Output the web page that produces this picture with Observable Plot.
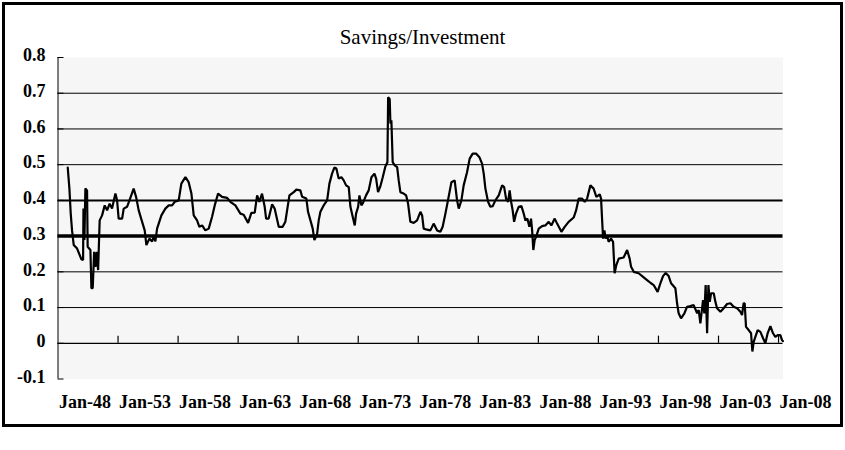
<!DOCTYPE html>
<html>
<head>
<meta charset="utf-8">
<script src="https://cdn.jsdelivr.net/npm/d3@7"></script>
<script src="https://cdn.jsdelivr.net/npm/@observablehq/plot@0.6"></script>
<style>
  html, body { margin: 0; padding: 0; background: #fff; }
  #wrap { position: relative; width: 845px; height: 450px; overflow: hidden; }
  #title { box-sizing: border-box; height: 50px; padding-top: 27px; text-align: center;
           font-family: "Liberation Serif", "Times New Roman", serif; font-size: 21px; line-height: 21px; color: #000; }
  #frame { position: absolute; left: 2px; top: 2px; width: 841px; height: 425px; box-sizing: border-box;
           border: 3px solid #000; pointer-events: none; }
</style>
</head>
<body>
<div id="wrap">
  <div id="title">Savings/Investment</div>
  <div id="chart"></div>
  <div id="frame"></div>
</div>
<script>
// Decimal years (monthly series)
const years = [
 1948.81,1948.95,1949.06,1949.17,1949.31,1949.59,1949.95,1950.09,1950.12,1950.20,
 1950.28,1950.42,1950.47,1950.70,1950.78,1950.89,1951.01,1951.11,1951.22,1951.34,
 1951.47,1951.67,1951.89,1952.09,1952.30,1952.50,1952.78,1952.92,1953.05,1953.34,
 1953.47,1953.75,1953.95,1954.30,1954.50,1954.72,1955.05,1955.22,1955.36,1955.61,
 1955.84,1955.99,1956.11,1956.25,1956.61,1956.94,1957.22,1957.50,1957.72,1958.05,
 1958.27,1958.61,1958.88,1959.11,1959.30,1959.58,1959.77,1960.00,1960.27,1960.55,
 1960.83,1961.05,1961.33,1961.66,1962.08,1962.35,1962.77,1963.19,1963.46,1963.83,
 1964.10,1964.38,1964.58,1964.77,1964.99,1965.21,1965.33,1965.54,1965.83,1966.04,
 1966.38,1966.71,1966.93,1967.27,1967.63,1967.85,1968.18,1968.33,1968.68,1968.82,
 1969.02,1969.21,1969.35,1969.57,1969.71,1969.85,1970.12,1970.41,1970.60,1970.82,
 1971.01,1971.18,1971.37,1971.60,1971.79,1971.99,1972.21,1972.35,1972.54,1972.71,
 1972.82,1972.99,1973.10,1973.26,1973.40,1973.65,1973.87,1974.10,1974.35,1974.49,
 1974.65,1974.84,1975.04,1975.26,1975.43,1975.49,1975.62,1975.68,1975.76,1975.87,
 1976.04,1976.24,1976.37,1976.51,1976.78,1976.99,1977.15,1977.34,1977.62,1977.90,
 1978.18,1978.32,1978.45,1978.73,1979.01,1979.28,1979.57,1979.84,1980.03,1980.26,
 1980.53,1980.76,1981.03,1981.23,1981.37,1981.59,1981.78,1982.06,1982.28,1982.53,
 1982.81,1983.09,1983.31,1983.45,1983.59,1983.81,1984.00,1984.20,1984.42,1984.70,
 1984.98,1985.15,1985.31,1985.48,1985.61,1985.73,1985.86,1985.98,1986.14,1986.36,
 1986.59,1986.78,1986.92,1987.08,1987.25,1987.39,1987.48,1987.58,1987.69,1987.81,
 1988.03,1988.31,1988.58,1988.86,1989.08,1989.36,1989.56,1989.92,1990.19,1990.52,
 1990.94,1991.14,1991.36,1991.64,1991.86,1992.06,1992.33,1992.60,1992.83,1993.11,
 1993.22,1993.31,1993.39,1993.50,1993.60,1993.72,1993.85,1994.05,1994.22,1994.35,
 1994.49,1994.69,1995.10,1995.39,1995.60,1995.72,1995.94,1996.35,1996.72,1997.05,
 1997.38,1997.60,1997.93,1998.16,1998.38,1998.60,1998.85,1999.05,1999.41,1999.55,
 1999.68,1999.88,2000.16,2000.38,2000.66,2000.93,2001.22,2001.35,2001.49,2001.71,
 2001.82,2001.93,2002.05,2002.16,2002.27,2002.38,2002.60,2002.74,2002.88,2003.16,
 2003.43,2003.71,2003.99,2004.26,2004.55,2004.82,2004.96,2005.09,2005.18,2005.29,
 2005.51,2005.71,2005.82,2005.93,2006.07,2006.26,2006.49,2006.71,2006.90,2007.09,
 2007.32,2007.54,2007.73,2007.93,2008.15,2008.29,2008.36
];
// Savings / Investment ratio
const ratio = [
 0.492,0.433,0.363,0.316,0.275,0.265,0.235,0.233,0.377,0.289,
 0.433,0.428,0.270,0.261,0.154,0.154,0.256,0.214,0.256,0.205,
 0.344,0.358,0.386,0.372,0.391,0.377,0.419,0.400,0.349,0.349,
 0.377,0.382,0.400,0.433,0.410,0.372,0.335,0.316,0.275,0.293,
 0.285,0.300,0.285,0.321,0.358,0.377,0.386,0.386,0.396,0.400,
 0.447,0.465,0.451,0.419,0.358,0.344,0.326,0.330,0.316,0.321,
 0.354,0.386,0.419,0.410,0.407,0.396,0.386,0.363,0.360,0.337,
 0.365,0.366,0.414,0.396,0.419,0.382,0.349,0.349,0.389,0.377,
 0.326,0.326,0.340,0.414,0.423,0.430,0.428,0.410,0.405,0.368,
 0.344,0.321,0.289,0.305,0.344,0.368,0.386,0.400,0.447,0.475,
 0.492,0.489,0.461,0.465,0.456,0.442,0.437,0.382,0.354,0.330,
 0.363,0.382,0.414,0.386,0.393,0.414,0.428,0.465,0.475,0.461,
 0.423,0.439,0.465,0.495,0.507,0.689,0.684,0.615,0.624,0.507,
 0.498,0.493,0.456,0.423,0.419,0.414,0.391,0.340,0.337,0.344,
 0.368,0.358,0.321,0.318,0.316,0.335,0.316,0.312,0.326,0.363,
 0.410,0.451,0.456,0.400,0.377,0.400,0.442,0.479,0.517,0.531,
 0.531,0.521,0.503,0.475,0.433,0.396,0.382,0.384,0.400,0.414,
 0.442,0.437,0.405,0.396,0.428,0.396,0.372,0.340,0.363,0.382,
 0.384,0.363,0.344,0.349,0.326,0.349,0.316,0.261,0.289,0.298,
 0.321,0.328,0.330,0.340,0.330,0.349,0.335,0.312,0.326,0.340,
 0.352,0.372,0.405,0.405,0.396,0.405,0.442,0.433,0.410,0.417,
 0.405,0.344,0.293,0.316,0.293,0.302,0.284,0.293,0.284,0.196,
 0.219,0.237,0.240,0.261,0.237,0.214,0.200,0.196,0.186,0.177,
 0.168,0.163,0.144,0.168,0.188,0.197,0.188,0.168,0.154,0.112,
 0.084,0.070,0.084,0.102,0.104,0.107,0.084,0.093,0.056,0.121,
 0.084,0.163,0.028,0.163,0.116,0.140,0.140,0.116,0.098,0.088,
 0.098,0.110,0.112,0.102,0.098,0.088,0.079,0.112,0.112,0.046,
 0.037,0.028,-0.023,0.004,0.018,0.037,0.032,0.014,0.000,0.028,
 0.048,0.028,0.018,0.023,0.023,0.009,0.006
];
const yTicks = [0.8, 0.7, 0.6, 0.5, 0.4, 0.3, 0.2, 0.1, 0, -0.1];
const gridThin = [0.7, 0.6, 0.5, 0.2, 0.1];
const gridMid = [0.4];
const gridThick = [0.3];
const xTickYears = [1948, 1953, 1958, 1963, 1968, 1973, 1978, 1983, 1988, 1993, 1998, 2003, 2008];
const xLabels = ["Jan-48","Jan-53","Jan-58","Jan-63","Jan-68","Jan-73","Jan-78","Jan-83","Jan-88","Jan-93","Jan-98","Jan-03","Jan-08"];
const xStart = 1948, xEnd = 2008.37;

const data = years.map((yr, i) => ({yr, v: ratio[i]}));
const labelData = xTickYears.map((yr, i) => ({yr: yr + 2.25, label: xLabels[i]}));

const chart = Plot.plot({
  width: 845,
  height: 400,
  marginTop: 7,
  marginBottom: 71.5,
  marginLeft: 57.5,
  marginRight: 62.5,
  style: {fontFamily: "'Liberation Serif', 'Times New Roman', serif", fontSize: "18px", fontWeight: "bold", background: "transparent", overflow: "visible", color: "#000"},
  x: {type: "linear", domain: [xStart, xEnd], axis: null},
  y: {domain: [-0.1, 0.8], axis: null},
  marks: [
    Plot.frame({fill: "#f6f6f6", stroke: "none"}),
    Plot.ruleY(gridThin, {stroke: "#000", strokeWidth: 1}),
    Plot.ruleY(gridMid, {stroke: "#000", strokeWidth: 2}),
    Plot.ruleY(gridThick, {stroke: "#000", strokeWidth: 3.5}),
    Plot.ruleY([0], {stroke: "#000", strokeWidth: 1.2}),
    Plot.ruleX(xTickYears.filter(d => d > xStart && d <= xEnd), {y1: 0, y2: 0.02, stroke: "#000", strokeWidth: 1.2}),
    Plot.ruleX([xStart], {stroke: "#000", strokeWidth: 1}),
    Plot.ruleY(yTicks, {x1: xStart, x2: xStart + 0.5, stroke: "#000", strokeWidth: 1}),
    Plot.line(data, {x: "yr", y: "v", stroke: "#000", strokeWidth: 2.2, strokeLinejoin: "miter"}),
    Plot.text(yTicks, {y: d => d, text: d => d === 0 ? "0" : d.toFixed(1), frameAnchor: "left", textAnchor: "end", dx: -12.5, dy: -2, fill: "#000"}),
    Plot.text(labelData, {x: "yr", text: "label", frameAnchor: "bottom", dy: 29, fill: "#000"})
  ]
});
document.getElementById("chart").appendChild(chart);
</script>
</body>
</html>
